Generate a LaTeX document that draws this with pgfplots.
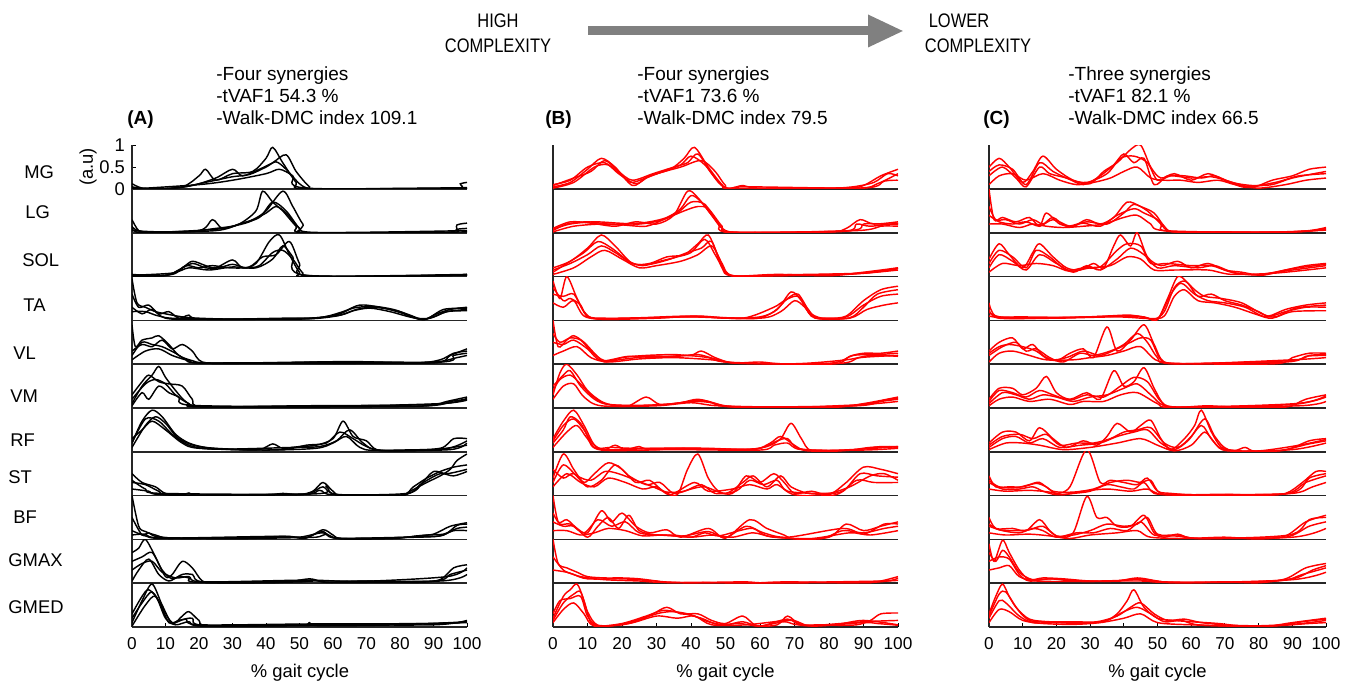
\documentclass[border=0pt]{standalone}
\usepackage{fontspec}
\setmainfont{Liberation Sans}
\usepackage{graphicx}
\usepackage{pgfplots}
\pgfplotsset{compat=1.18}
\usetikzlibrary{arrows.meta}
\newcommand\tickfont{\fontsize{8.6}{10}\selectfont}
\newcommand\labfont{\fontsize{9.2}{11}\selectfont}
\pgfplotsset{
 /pgf/number format/assume math mode=true,
 rowax/.style={scale only axis, height=21.9pt, xmin=0, xmax=100, ymin=0, ymax=1,
   axis x line*=bottom, axis y line*=left, axis line style={-, line width=0.75pt, black!85},
   xtick=\empty, ytick=\empty, anchor=south west},
 pA/.style={width=167.5pt}, pB/.style={width=172.5pt}, pC/.style={width=168.5pt},
 bot/.style={xtick={0,10,...,100}, tick align=inside, major tick length=2.2pt,
   xticklabel style={font=\tickfont, yshift=-1.5pt}, x tick style={black, line width=0.5pt}},
 A/.style={black, line width=0.72pt, smooth, mark=none},
 B/.style={red, line width=0.72pt, smooth, mark=none},
}
\newcommand\R[4]{\begin{axis}[rowax,#3,at={(#1pt,-#2pt)}]#4\end{axis}}
\begin{document}
\begin{tikzpicture}
\useasboundingbox (0,0) rectangle (677pt,-344pt);
% ---------------- header
\node[font=\fontsize{9.8}{12.5}\selectfont, align=center] at (249pt,-16.5pt) {\scalebox{0.84}[1]{HIGH}\\\scalebox{0.84}[1]{COMPLEXITY}};
\node[font=\fontsize{9.8}{12.5}\selectfont] at (479.5pt,-10.5pt) {\scalebox{0.84}[1]{LOWER}};
\node[font=\fontsize{9.8}{12.5}\selectfont] at (489pt,-23pt) {\scalebox{0.84}[1]{COMPLEXITY}};
\draw[-{Triangle[length=18pt,width=15pt]}, line width=4.5pt, color={rgb,255:red,128;green,128;blue,128}] (294pt,-15.5pt) -- (452pt,-15.5pt);
% ---------------- panel texts
\foreach \xx/\a/\b/\c in {108/Four synergies/54.3/109.1, 318.5/Four synergies/73.6/79.5, 534/Three synergies/82.1/66.5}{
 \node[anchor=base west, font=\fontsize{9.5}{11}\selectfont, inner sep=0pt] at (\xx pt,-40.5pt) {-\a};
 \node[anchor=base west, font=\fontsize{9.5}{11}\selectfont, inner sep=0pt] at (\xx pt,-51.5pt) {-tVAF1 \b\ \%};
 \node[anchor=base west, font=\fontsize{9.5}{11}\selectfont, inner sep=0pt] at (\xx pt,-62.5pt) {-Walk-DMC index \c};
}
\node[anchor=base west, font=\fontsize{9.5}{11}\selectfont\bfseries, inner sep=0pt] at (63.5pt,-62.5pt) {(A)};
\node[anchor=base west, font=\fontsize{9.5}{11}\selectfont\bfseries, inner sep=0pt] at (272.5pt,-62.5pt) {(B)};
\node[anchor=base west, font=\fontsize{9.5}{11}\selectfont\bfseries, inner sep=0pt] at (491.5pt,-62.5pt) {(C)};
% ---------------- row labels
\foreach \lab/\lx/\ly in {MG/12/86, LG/12.5/106, SOL/11/130, TA/11.5/152.5, VL/6.5/176.5, VM/5/198, RF/5/220, ST/4/238.5, BF/6.5/258.5, GMAX/4/280, GMED/4/303.5}{
 \node[anchor=west, font=\labfont, inner sep=0pt] at (\lx pt,-\ly pt) {\lab};
}
\node[rotate=90, font=\labfont] at (44pt,-83.5pt) {(a.u)};
\node[font=\labfont] at (150pt,-336.5pt) {\% gait cycle};
\node[font=\labfont] at (362.75pt,-336.5pt) {\% gait cycle};
\node[font=\labfont] at (578.75pt,-336.5pt) {\% gait cycle};
% ================= PANEL A
\R{66}{94.5}{pA, ytick={0,0.5,1}, tick align=inside, major tick length=2.2pt, y tick style={black, line width=0.5pt}, yticklabel style={font=\labfont}}{
\addplot[A] coordinates {(0,0.12)(3,0.02)(8,0)(15,0.04)(20,0.12)(25,0.2)(30,0.28)(35,0.33)(40,0.5)(43,0.62)(46,0.45)(50,0.12)(53,0.01)(60,0)(100,0.02)};
\addplot[A] coordinates {(0,0.05)(5,0)(15,0.05)(20,0.3)(22,0.45)(25,0.2)(30,0.35)(36,0.4)(40,0.7)(42,0.95)(45,0.6)(49,0.15)(52,0)(95,0)(98,0.12)(100,0.15)};
\addplot[A] coordinates {(0,0.02)(10,0.01)(18,0.08)(25,0.25)(30,0.45)(33,0.3)(38,0.45)(42,0.6)(46,0.78)(49,0.4)(53,0.05)(56,0)(100,0.03)};
\addplot[A] coordinates {(0,0)(20,0.1)(30,0.2)(40,0.35)(44,0.45)(48,0.3)(52,0.02)(100,0)};
}
\R{66}{116.4}{pA}{
\addplot[A] coordinates {(0,0.3)(2,0.05)(5,0.01)(15,0.03)(20,0.05)(25,0.1)(30,0.15)(35,0.25)(40,0.45)(43,0.6)(46,0.45)(50,0.1)(53,0)(94,0)(97,0.08)(100,0.1)};
\addplot[A] coordinates {(0,0.1)(3,0)(20,0.05)(24,0.3)(27,0.1)(32,0.2)(37,0.5)(39,0.95)(42,0.7)(45,0.5)(49,0.15)(52,0)(93,0)(97,0.18)(100,0.22)};
\addplot[A] coordinates {(0,0.05)(10,0.02)(25,0.08)(30,0.15)(36,0.3)(40,0.5)(45,0.95)(48,0.6)(51,0.2)(54,0.01)(100,0.05)};
\addplot[A] coordinates {(0,0.15)(4,0.02)(25,0.05)(32,0.2)(38,0.35)(42,0.7)(46,0.5)(50,0.1)(53,0)(100,0.02)};
}
\R{66}{138.3}{pA}{
\addplot[A] coordinates {(0,0.02)(10,0.03)(14,0.15)(18,0.3)(22,0.2)(26,0.2)(30,0.28)(34,0.2)(38,0.25)(42,0.55)(45,0.6)(48,0.4)(51,0.08)(54,0)(90,0.02)(100,0.05)};
\addplot[A] coordinates {(0,0.05)(10,0.02)(15,0.2)(18,0.35)(22,0.25)(25,0.2)(30,0.38)(33,0.2)(37,0.3)(41,0.8)(44,0.95)(47,0.5)(50,0.1)(53,0)(100,0.05)};
\addplot[A] coordinates {(0,0)(12,0.05)(16,0.25)(20,0.2)(24,0.25)(29,0.2)(35,0.22)(39,0.45)(43,0.5)(47,0.8)(50,0.3)(53,0.02)(100,0.04)};
\addplot[A] coordinates {(0,0.03)(12,0.08)(17,0.2)(23,0.15)(30,0.22)(37,0.2)(42,0.4)(45,0.7)(48,0.45)(52,0.03)(100,0.03)};
}
\R{66}{160.2}{pA}{
\addplot[A] coordinates {(0,0.95)(1.5,0.4)(4,0.3)(7,0.2)(10,0.15)(15,0.08)(20,0.05)(30,0.03)(45,0.05)(55,0.06)(62,0.15)(66,0.28)(72,0.32)(78,0.25)(83,0.12)(87,0.02)(91,0.15)(95,0.25)(100,0.3)};
\addplot[A] coordinates {(0,0.6)(2,0.3)(5,0.35)(8,0.15)(11,0.2)(14,0.05)(17,0.12)(20,0.03)(40,0.03)(55,0.05)(63,0.2)(68,0.35)(74,0.3)(80,0.18)(86,0.02)(90,0.08)(94,0.2)(100,0.25)};
\addplot[A] coordinates {(0,0.3)(3,0.15)(6,0.25)(10,0.05)(20,0.02)(50,0.04)(62,0.12)(67,0.25)(72,0.3)(79,0.22)(85,0.05)(88,0.03)(93,0.25)(100,0.28)};
\addplot[A] coordinates {(0,0.2)(4,0.2)(8,0.1)(15,0.04)(50,0.03)(61,0.1)(66,0.22)(71,0.28)(77,0.2)(84,0.06)(89,0.05)(94,0.2)(100,0.22)};
}
\R{66}{182.1}{pA}{
\addplot[A] coordinates {(0,0.9)(1,0.4)(3,0.55)(6,0.6)(8,0.65)(11,0.45)(14,0.2)(18,0.08)(22,0.03)(40,0.03)(65,0.06)(85,0.03)(92,0.1)(96,0.25)(100,0.3)};
\addplot[A] coordinates {(0,0.3)(3,0.45)(6,0.4)(9,0.55)(12,0.35)(15,0.45)(18,0.3)(21,0.05)(30,0.02)(60,0.05)(90,0.03)(95,0.2)(100,0.35)};
\addplot[A] coordinates {(0,0.1)(4,0.3)(8,0.35)(12,0.2)(16,0.1)(20,0.03)(50,0.04)(70,0.05)(90,0.05)(97,0.15)(100,0.2)};
\addplot[A] coordinates {(0,0.2)(3,0.5)(6,0.45)(9,0.4)(13,0.25)(17,0.08)(25,0.02)(90,0.04)(96,0.2)(100,0.25)};
}
\R{66}{204}{pA}{
\addplot[A] coordinates {(0,0.1)(3,0.5)(6,0.75)(8,0.95)(10,0.7)(13,0.4)(16,0.15)(20,0.04)(40,0.03)(70,0.05)(88,0.05)(94,0.15)(100,0.25)};
\addplot[A] coordinates {(0,0.3)(3,0.6)(5,0.75)(8,0.6)(11,0.55)(15,0.5)(18,0.2)(21,0.03)(50,0.05)(90,0.08)(100,0.22)};
\addplot[A] coordinates {(0,0.05)(3,0.35)(5,0.2)(8,0.5)(11,0.35)(14,0.25)(18,0.06)(60,0.04)(92,0.1)(100,0.18)};
\addplot[A] coordinates {(0,0.2)(4,0.55)(7,0.65)(10,0.55)(13,0.3)(17,0.1)(22,0.02)(85,0.04)(95,0.15)(100,0.2)};
}
\R{66}{225.9}{pA}{
\addplot[A] coordinates {(0,0.2)(3,0.7)(6,0.95)(9,0.8)(13,0.4)(17,0.2)(22,0.1)(30,0.06)(38,0.05)(42,0.18)(45,0.08)(50,0.12)(55,0.15)(60,0.3)(63,0.7)(66,0.35)(70,0.25)(73,0.05)(80,0.04)(92,0.08)(96,0.3)(100,0.3)};
\addplot[A] coordinates {(0,0.1)(4,0.6)(7,0.8)(10,0.65)(14,0.3)(20,0.12)(30,0.05)(45,0.05)(52,0.15)(58,0.2)(62,0.45)(66,0.3)(70,0.12)(75,0.03)(90,0.05)(100,0.15)};
\addplot[A] coordinates {(0,0.3)(3,0.5)(6,0.7)(10,0.5)(15,0.2)(20,0.08)(40,0.04)(55,0.08)(60,0.2)(64,0.35)(68,0.1)(73,0.03)(95,0.05)(100,0.2)};
\addplot[A] coordinates {(0,0.2)(4,0.75)(8,0.7)(12,0.4)(17,0.15)(25,0.06)(48,0.1)(56,0.12)(61,0.25)(65,0.5)(69,0.2)(74,0.03)(93,0.06)(100,0.25)};
}
\R{66}{247.8}{pA}{
\addplot[A] coordinates {(0,0.5)(3,0.3)(7,0.2)(10,0.05)(15,0.02)(17,0.06)(20,0.01)(40,0.02)(45,0.05)(50,0.02)(54,0.1)(57,0.3)(60,0.1)(63,0)(80,0)(84,0.2)(88,0.4)(92,0.55)(96,0.65)(100,0.7)};
\addplot[A] coordinates {(0,0.3)(4,0.25)(8,0.1)(12,0.01)(45,0.03)(53,0.05)(57,0.2)(61,0.03)(80,0)(83,0.1)(88,0.3)(92,0.45)(95,0.6)(97,0.8)(100,0.95)};
\addplot[A] coordinates {(0,0.15)(5,0.1)(10,0.02)(50,0.02)(56,0.12)(60,0.02)(82,0.05)(87,0.3)(92,0.5)(96,0.45)(100,0.55)};
\addplot[A] coordinates {(0,0.35)(4,0.15)(9,0.05)(55,0.04)(58,0.22)(61,0.02)(81,0.02)(86,0.25)(90,0.55)(94,0.5)(100,0.6)};
}
\R{66}{269.7}{pA}{
\addplot[A] coordinates {(0,1.0)(2,0.3)(4,0.18)(7,0.1)(12,0.03)(35,0.02)(42,0.06)(47,0.07)(52,0.03)(57,0.22)(60,0.1)(63,0.01)(78,0.02)(85,0.08)(90,0.12)(95,0.3)(100,0.38)};
\addplot[A] coordinates {(0,0.5)(3,0.1)(5,0.15)(10,0.04)(40,0.03)(50,0.05)(57,0.15)(62,0.02)(80,0.04)(88,0.1)(93,0.12)(97,0.25)(100,0.28)};
\addplot[A] coordinates {(0,0.2)(4,0.08)(10,0.02)(45,0.05)(55,0.05)(58,0.12)(62,0.02)(85,0.05)(92,0.08)(96,0.2)(100,0.2)};
\addplot[A] coordinates {(0,0.1)(4,0.12)(9,0.03)(44,0.07)(51,0.02)(57,0.18)(61,0.03)(86,0.06)(93,0.1)(97,0.32)(100,0.35)};
}
\R{66}{291.6}{pA}{
\addplot[A] coordinates {(0,0.7)(2,0.8)(4,1.0)(7,0.6)(10,0.15)(12,0.2)(15,0.5)(18,0.35)(21,0.05)(25,0.01)(45,0.02)(53,0.1)(58,0.02)(70,0.05)(85,0.02)(92,0.08)(96,0.35)(100,0.42)};
\addplot[A] coordinates {(0,0.5)(3,0.6)(6,0.7)(9,0.3)(12,0.1)(15,0.2)(18,0.2)(22,0.02)(50,0.03)(54,0.08)(60,0.02)(90,0.05)(95,0.2)(100,0.3)};
\addplot[A] coordinates {(0,0.05)(2,0.3)(5,0.55)(8,0.2)(11,0.05)(14,0.15)(17,0.12)(20,0.02)(55,0.05)(92,0.05)(100,0.2)};
\addplot[A] coordinates {(0,0.3)(3,0.45)(6,0.5)(9,0.25)(13,0.12)(17,0.15)(21,0.03)(52,0.07)(68,0.04)(94,0.15)(100,0.35)};
}
\R{66}{313.5}{pA, bot}{
\addplot[A] coordinates {(0,0.1)(3,0.6)(6,0.98)(9,0.5)(12,0.08)(15,0.25)(17,0.35)(20,0.15)(23,0.03)(50,0.04)(53,0.1)(56,0.03)(80,0.05)(95,0.1)(100,0.12)};
\addplot[A] coordinates {(0,0.3)(3,0.7)(5,0.85)(8,0.6)(11,0.1)(14,0.15)(18,0.2)(22,0.03)(60,0.04)(100,0.1)};
\addplot[A] coordinates {(0,0.02)(4,0.5)(7,0.7)(10,0.2)(13,0.05)(17,0.12)(21,0.02)(53,0.05)(90,0.05)(100,0.15)};
\addplot[A] coordinates {(0,0.2)(3,0.55)(6,0.8)(9,0.45)(12,0.1)(16,0.18)(20,0.05)(54,0.07)(92,0.08)(100,0.12)};
}
% ================= PANEL B
\R{276.5}{94.5}{pB}{
\addplot[B] coordinates {(0,0.05)(5,0.15)(10,0.45)(14,0.7)(18,0.5)(23,0.08)(27,0.25)(32,0.4)(37,0.55)(40,0.75)(44,0.55)(48,0.15)(51,0.01)(55,0.08)(60,0.02)(85,0.02)(90,0.08)(95,0.3)(100,0.45)};
\addplot[B] coordinates {(0,0.1)(5,0.2)(10,0.5)(15,0.6)(19,0.35)(24,0.12)(28,0.3)(34,0.45)(38,0.7)(41,0.95)(45,0.5)(49,0.1)(52,0)(80,0.02)(87,0.05)(93,0.15)(97,0.35)(100,0.3)};
\addplot[B] coordinates {(0,0.02)(6,0.15)(12,0.5)(16,0.55)(20,0.3)(23,0.15)(30,0.35)(37,0.5)(43,0.65)(47,0.4)(50,0.08)(53,0)(90,0.02)(96,0.18)(100,0.2)};
\addplot[B] coordinates {(0,0.08)(6,0.25)(11,0.4)(15,0.65)(19,0.4)(23,0.2)(29,0.35)(35,0.5)(39,0.6)(42,0.8)(46,0.35)(50,0.02)(56,0.05)(88,0.02)(94,0.12)(100,0.35)};
}
\R{276.5}{116.4}{pB}{
\addplot[B] coordinates {(0,0.05)(4,0.2)(10,0.25)(16,0.2)(22,0.2)(28,0.25)(33,0.35)(37,0.55)(40,0.85)(43,0.7)(47,0.3)(50,0.05)(55,0.01)(80,0.02)(85,0.1)(89,0.3)(93,0.2)(100,0.25)};
\addplot[B] coordinates {(0,0.1)(5,0.25)(11,0.22)(18,0.15)(24,0.25)(30,0.2)(35,0.4)(39,0.95)(42,0.8)(46,0.4)(49,0.1)(53,0)(86,0.05)(90,0.2)(95,0.2)(100,0.2)};
\addplot[B] coordinates {(0,0.02)(6,0.15)(14,0.2)(20,0.18)(27,0.15)(32,0.3)(38,0.5)(42,0.6)(45,0.55)(49,0.15)(52,0.01)(88,0.05)(95,0.15)(100,0.15)};
\addplot[B] coordinates {(0,0.08)(5,0.2)(12,0.25)(19,0.22)(25,0.2)(31,0.28)(36,0.45)(40,0.7)(44,0.65)(48,0.2)(51,0.02)(84,0.03)(88,0.2)(92,0.15)(100,0.22)};
}
\R{276.5}{138.3}{pB}{
\addplot[B] coordinates {(0,0.1)(4,0.3)(9,0.55)(13,0.8)(17,0.65)(22,0.35)(26,0.25)(31,0.35)(36,0.45)(40,0.55)(44,0.85)(47,0.5)(50,0.1)(53,0.01)(65,0.05)(80,0.02)(90,0.1)(100,0.2)};
\addplot[B] coordinates {(0,0.2)(5,0.35)(10,0.65)(14,0.95)(18,0.7)(23,0.3)(28,0.3)(33,0.45)(38,0.5)(42,0.75)(45,0.95)(48,0.45)(51,0.05)(60,0.02)(85,0.05)(100,0.15)};
\addplot[B] coordinates {(0,0.05)(6,0.2)(11,0.45)(15,0.6)(20,0.4)(25,0.2)(30,0.25)(37,0.35)(42,0.5)(46,0.7)(49,0.3)(52,0.02)(66,0.04)(90,0.08)(100,0.18)};
\addplot[B] coordinates {(0,0.15)(5,0.3)(10,0.5)(14,0.7)(18,0.55)(23,0.3)(28,0.28)(34,0.4)(39,0.55)(43,0.65)(46,0.8)(49,0.2)(52,0.02)(70,0.03)(90,0.08)(100,0.2)};
}
\R{276.5}{160.2}{pB}{
\addplot[B] coordinates {(0,0.9)(2,0.5)(4,1.0)(7,0.5)(10,0.1)(15,0.05)(25,0.06)(40,0.1)(50,0.05)(60,0.08)(65,0.25)(69,0.65)(72,0.45)(75,0.1)(80,0.05)(85,0.1)(90,0.45)(95,0.7)(100,0.78)};
\addplot[B] coordinates {(0,0.6)(3,0.55)(6,0.6)(9,0.2)(13,0.03)(30,0.05)(42,0.1)(55,0.05)(64,0.3)(67,0.45)(71,0.55)(74,0.2)(78,0.05)(85,0.08)(90,0.35)(95,0.55)(100,0.6)};
\addplot[B] coordinates {(0,0.4)(3,0.3)(6,0.45)(9,0.1)(15,0.04)(40,0.08)(60,0.05)(66,0.2)(70,0.45)(73,0.3)(76,0.05)(86,0.05)(91,0.25)(96,0.35)(100,0.4)};
\addplot[B] coordinates {(0,0.75)(3,0.45)(5,0.5)(8,0.35)(11,0.05)(25,0.05)(40,0.08)(58,0.04)(64,0.2)(68,0.5)(71,0.6)(74,0.25)(77,0.04)(86,0.06)(90,0.3)(94,0.6)(100,0.7)};
}
\R{276.5}{182.1}{pB}{
\addplot[B] coordinates {(0,1.0)(1.5,0.4)(4,0.55)(6,0.65)(9,0.5)(12,0.25)(15,0.05)(20,0.15)(27,0.2)(35,0.22)(40,0.2)(43,0.3)(47,0.15)(52,0.03)(60,0.05)(66,0.01)(82,0.01)(86,0.18)(90,0.25)(95,0.25)(100,0.3)};
\addplot[B] coordinates {(0,0.5)(3,0.45)(6,0.55)(10,0.35)(14,0.08)(22,0.18)(30,0.15)(38,0.2)(45,0.15)(50,0.05)(70,0.01)(85,0.1)(92,0.2)(100,0.18)};
\addplot[B] coordinates {(0,0.2)(3,0.3)(7,0.4)(11,0.15)(16,0.05)(25,0.12)(35,0.15)(46,0.1)(55,0.02)(83,0.02)(89,0.15)(100,0.2)};
\addplot[B] coordinates {(0,0.7)(2,0.5)(5,0.6)(8,0.55)(11,0.3)(15,0.08)(21,0.12)(28,0.18)(36,0.18)(42,0.22)(47,0.12)(54,0.02)(80,0.02)(87,0.2)(94,0.22)(100,0.25)};
}
\R{276.5}{204}{pB}{
\addplot[B] coordinates {(0,0.3)(2,0.8)(4,1.0)(7,0.75)(10,0.4)(14,0.15)(18,0.05)(22,0.05)(27,0.25)(31,0.08)(37,0.12)(42,0.2)(47,0.1)(53,0.02)(80,0.01)(90,0.1)(100,0.25)};
\addplot[B] coordinates {(0,0.5)(3,0.75)(5,0.85)(8,0.5)(12,0.2)(16,0.08)(25,0.05)(35,0.1)(43,0.18)(50,0.05)(60,0.01)(85,0.04)(95,0.15)(100,0.2)};
\addplot[B] coordinates {(0,0.2)(3,0.5)(6,0.55)(9,0.25)(14,0.05)(30,0.05)(40,0.12)(48,0.05)(70,0.02)(90,0.08)(100,0.15)};
\addplot[B] coordinates {(0,0.4)(2,0.65)(5,0.75)(8,0.55)(11,0.3)(15,0.1)(22,0.06)(32,0.08)(41,0.15)(46,0.12)(52,0.03)(88,0.05)(96,0.18)(100,0.22)};
}
\R{276.5}{225.9}{pB}{
\addplot[B] coordinates {(0,0.3)(3,0.7)(6,0.95)(9,0.6)(12,0.15)(15,0.05)(18,0.15)(21,0.05)(25,0.12)(28,0.05)(40,0.08)(55,0.05)(62,0.12)(66,0.3)(69,0.65)(72,0.3)(75,0.02)(85,0.03)(92,0.1)(100,0.12)};
\addplot[B] coordinates {(0,0.2)(3,0.5)(5,0.8)(8,0.65)(11,0.25)(15,0.05)(30,0.08)(45,0.08)(58,0.05)(63,0.2)(66,0.35)(70,0.15)(74,0.02)(88,0.05)(95,0.12)(100,0.1)};
\addplot[B] coordinates {(0,0.1)(4,0.45)(7,0.6)(10,0.3)(14,0.04)(35,0.05)(60,0.04)(64,0.15)(68,0.2)(72,0.05)(90,0.04)(100,0.08)};
\addplot[B] coordinates {(0,0.25)(3,0.6)(6,0.75)(9,0.5)(12,0.1)(17,0.1)(23,0.08)(35,0.08)(50,0.06)(60,0.08)(65,0.25)(68,0.3)(71,0.08)(80,0.03)(93,0.08)(100,0.12)};
}
\R{276.5}{247.8}{pB}{
\addplot[B] coordinates {(0,0.4)(3,0.95)(6,0.6)(9,0.3)(12,0.5)(16,0.75)(20,0.6)(24,0.3)(28,0.35)(32,0.1)(36,0.02)(39,0.6)(42,0.95)(45,0.4)(48,0.1)(52,0.05)(56,0.45)(60,0.3)(64,0.5)(67,0.3)(70,0.05)(75,0.1)(80,0.02)(85,0.3)(90,0.65)(95,0.6)(100,0.5)};
\addplot[B] coordinates {(0,0.6)(3,0.4)(6,0.5)(10,0.2)(14,0.35)(18,0.7)(22,0.45)(27,0.25)(31,0.3)(35,0.05)(40,0.15)(44,0.2)(50,0.05)(55,0.3)(58,0.45)(62,0.2)(66,0.45)(69,0.2)(74,0.05)(80,0.05)(86,0.2)(92,0.45)(96,0.5)(100,0.35)};
\addplot[B] coordinates {(0,0.2)(4,0.5)(8,0.3)(12,0.2)(16,0.4)(21,0.3)(26,0.15)(30,0.2)(34,0.02)(41,0.3)(45,0.1)(52,0.15)(57,0.25)(62,0.15)(65,0.25)(70,0.02)(82,0.02)(88,0.35)(93,0.3)(100,0.3)};
\addplot[B] coordinates {(0,0.3)(3,0.7)(7,0.45)(11,0.35)(15,0.55)(19,0.5)(24,0.35)(29,0.2)(33,0.08)(38,0.1)(43,0.25)(47,0.05)(53,0.1)(57,0.35)(61,0.25)(65,0.35)(68,0.1)(78,0.05)(84,0.1)(89,0.5)(94,0.45)(100,0.42)};
}
\R{276.5}{269.7}{pB}{
\addplot[B] coordinates {(0,1.0)(1.5,0.4)(4,0.45)(7,0.25)(10,0.15)(14,0.65)(17,0.4)(20,0.6)(24,0.3)(28,0.15)(33,0.22)(37,0.05)(45,0.25)(50,0.03)(57,0.45)(62,0.25)(67,0.1)(70,0.01)(80,0.05)(85,0.35)(90,0.2)(95,0.3)(100,0.4)};
\addplot[B] coordinates {(0,0.4)(3,0.3)(6,0.3)(10,0.05)(13,0.3)(16,0.5)(19,0.25)(22,0.55)(25,0.2)(30,0.1)(35,0.1)(40,0.05)(44,0.15)(48,0.08)(54,0.2)(58,0.25)(62,0.08)(70,0.02)(78,0.02)(84,0.2)(90,0.15)(96,0.25)(100,0.3)};
\addplot[B] coordinates {(0,0.2)(4,0.2)(8,0.1)(12,0.15)(16,0.25)(21,0.2)(26,0.08)(32,0.1)(40,0.05)(46,0.1)(52,0.05)(58,0.15)(64,0.05)(75,0.02)(86,0.15)(92,0.1)(100,0.2)};
\addplot[B] coordinates {(0,0.6)(2,0.35)(5,0.35)(9,0.15)(13,0.45)(17,0.3)(21,0.4)(25,0.15)(31,0.1)(38,0.08)(45,0.18)(50,0.04)(56,0.3)(61,0.15)(68,0.05)(84,0.25)(90,0.12)(96,0.35)(100,0.35)};
}
\R{276.5}{291.6}{pB}{
\addplot[B] coordinates {(0,1.0)(1.5,0.45)(4,0.35)(7,0.25)(10,0.15)(15,0.12)(20,0.12)(25,0.1)(30,0.05)(35,0.01)(55,0.03)(60,0.01)(68,0.03)(90,0.01)(95,0.05)(100,0.15)};
\addplot[B] coordinates {(0,0.6)(3,0.3)(6,0.2)(10,0.1)(20,0.1)(28,0.06)(35,0.02)(50,0.01)(92,0.02)(100,0.12)};
\addplot[B] coordinates {(0,0.3)(4,0.25)(8,0.15)(15,0.08)(25,0.05)(32,0.02)(60,0.01)(96,0.05)(100,0.08)};
}
\R{276.5}{313.5}{pB, bot}{
\addplot[B] coordinates {(0,0.2)(3,0.7)(5,0.85)(7,0.98)(9,0.6)(11,0.1)(14,0.03)(20,0.05)(25,0.15)(29,0.3)(33,0.45)(37,0.3)(42,0.3)(46,0.15)(50,0.08)(55,0.25)(59,0.03)(65,0.05)(68,0.25)(72,0.05)(80,0.04)(88,0.05)(92,0.15)(95,0.3)(100,0.32)};
\addplot[B] coordinates {(0,0.3)(2,0.6)(5,0.65)(8,0.7)(10,0.25)(13,0.03)(20,0.08)(27,0.25)(32,0.38)(37,0.32)(43,0.2)(48,0.05)(54,0.08)(60,0.02)(67,0.12)(71,0.05)(82,0.06)(90,0.15)(100,0.05)};
\addplot[B] coordinates {(0,0.1)(3,0.4)(6,0.55)(9,0.3)(12,0.02)(22,0.08)(30,0.25)(36,0.2)(41,0.25)(46,0.05)(56,0.05)(69,0.15)(75,0.02)(90,0.1)(94,0.08)(100,0.04)};
\addplot[B] coordinates {(0,0.15)(3,0.55)(6,0.75)(8,0.8)(10,0.35)(13,0.04)(20,0.06)(26,0.2)(31,0.32)(35,0.35)(40,0.28)(45,0.12)(50,0.05)(55,0.12)(60,0.02)(68,0.18)(73,0.03)(90,0.12)(100,0.15)};
}
% ================= PANEL C
\R{494.5}{94.5}{pC}{
\addplot[B] coordinates {(0,0.5)(3,0.7)(6,0.5)(10,0.15)(13,0.4)(16,0.75)(20,0.45)(25,0.2)(30,0.12)(34,0.4)(38,0.6)(42,0.9)(45,1.0)(48,0.5)(51,0.25)(55,0.35)(60,0.2)(65,0.35)(70,0.2)(75,0.05)(79,0.05)(84,0.2)(90,0.3)(95,0.45)(100,0.5)};
\addplot[B] coordinates {(0,0.3)(4,0.5)(8,0.25)(11,0.05)(15,0.5)(18,0.35)(23,0.25)(28,0.1)(33,0.3)(37,0.55)(40,0.8)(43,0.6)(46,0.7)(49,0.1)(53,0.3)(58,0.3)(63,0.25)(67,0.3)(72,0.15)(78,0.08)(84,0.1)(90,0.25)(100,0.4)};
\addplot[B] coordinates {(0,0.1)(3,0.3)(7,0.35)(11,0.2)(16,0.35)(21,0.2)(26,0.1)(31,0.15)(36,0.25)(40,0.4)(44,0.5)(48,0.25)(52,0.2)(57,0.2)(62,0.15)(68,0.2)(73,0.1)(80,0.02)(88,0.1)(94,0.2)(100,0.25)};
\addplot[B] coordinates {(0,0.4)(3,0.55)(7,0.45)(11,0.1)(15,0.6)(19,0.4)(24,0.22)(29,0.15)(35,0.35)(39,0.7)(43,0.75)(47,0.6)(50,0.2)(54,0.3)(60,0.25)(66,0.28)(71,0.18)(77,0.06)(85,0.15)(92,0.3)(100,0.35)};
}
\R{494.5}{116.4}{pC}{
\addplot[B] coordinates {(0,1.0)(1.5,0.3)(4,0.35)(8,0.25)(12,0.35)(15,0.15)(17,0.45)(21,0.2)(25,0.15)(29,0.3)(33,0.2)(37,0.35)(41,0.7)(45,0.6)(49,0.45)(52,0.15)(55,0.02)(70,0.02)(85,0.01)(95,0.05)(100,0.12)};
\addplot[B] coordinates {(0,0.4)(3,0.25)(7,0.2)(11,0.25)(15,0.15)(19,0.3)(24,0.15)(28,0.22)(33,0.15)(38,0.4)(43,0.55)(46,0.45)(50,0.3)(53,0.05)(60,0.02)(90,0.02)(100,0.08)};
\addplot[B] coordinates {(0,0.2)(4,0.2)(9,0.12)(13,0.2)(17,0.15)(22,0.12)(28,0.15)(34,0.2)(40,0.35)(44,0.4)(48,0.2)(52,0.05)(80,0.01)(100,0.06)};
\addplot[B] coordinates {(0,0.6)(2,0.3)(5,0.3)(9,0.2)(13,0.3)(16,0.2)(19,0.35)(23,0.15)(29,0.25)(35,0.2)(40,0.45)(43,0.65)(47,0.5)(51,0.2)(54,0.03)(90,0.02)(100,0.1)};
}
\R{494.5}{138.3}{pC}{
\addplot[B] coordinates {(0,0.4)(3,0.75)(6,0.5)(10,0.2)(13,0.55)(15,0.75)(19,0.45)(23,0.2)(27,0.15)(31,0.3)(34,0.2)(37,0.7)(39,0.95)(42,0.7)(44,1.0)(47,0.45)(51,0.25)(56,0.35)(60,0.2)(65,0.3)(70,0.15)(75,0.1)(81,0.03)(88,0.15)(94,0.25)(100,0.3)};
\addplot[B] coordinates {(0,0.2)(3,0.5)(7,0.35)(11,0.15)(15,0.5)(20,0.3)(25,0.1)(29,0.25)(33,0.15)(38,0.4)(42,0.65)(46,0.5)(50,0.2)(55,0.25)(62,0.2)(67,0.25)(73,0.08)(80,0.05)(90,0.15)(100,0.25)};
\addplot[B] coordinates {(0,0.1)(4,0.3)(9,0.25)(14,0.3)(19,0.25)(24,0.12)(30,0.2)(36,0.25)(41,0.45)(45,0.4)(49,0.15)(55,0.15)(65,0.15)(72,0.05)(85,0.08)(100,0.2)};
\addplot[B] coordinates {(0,0.3)(3,0.6)(7,0.45)(11,0.2)(14,0.6)(18,0.45)(23,0.15)(28,0.2)(33,0.22)(38,0.6)(41,0.75)(45,0.7)(48,0.3)(53,0.3)(60,0.25)(66,0.25)(72,0.1)(80,0.04)(90,0.18)(100,0.28)};
}
\R{494.5}{160.2}{pC}{
\addplot[B] coordinates {(0,0.4)(2,0.1)(10,0.08)(25,0.07)(35,0.1)(42,0.12)(47,0.05)(50,0.02)(53,0.5)(56,1.0)(59,0.85)(62,0.55)(66,0.6)(70,0.45)(75,0.35)(80,0.2)(83,0.1)(88,0.25)(94,0.35)(100,0.4)};
\addplot[B] coordinates {(0,0.2)(3,0.08)(15,0.06)(30,0.08)(40,0.1)(46,0.08)(50,0.02)(54,0.6)(57,0.85)(61,0.6)(65,0.45)(70,0.4)(76,0.3)(82,0.08)(88,0.2)(94,0.3)(100,0.3)};
\addplot[B] coordinates {(0,0.1)(5,0.05)(20,0.05)(38,0.08)(48,0.04)(52,0.1)(55,0.55)(58,0.7)(62,0.45)(67,0.4)(73,0.3)(80,0.12)(84,0.05)(90,0.2)(100,0.22)};
\addplot[B] coordinates {(0,0.25)(3,0.05)(20,0.06)(35,0.09)(44,0.1)(49,0.03)(52,0.2)(55,0.75)(58,0.9)(61,0.7)(64,0.55)(69,0.5)(75,0.4)(81,0.15)(85,0.08)(91,0.28)(100,0.35)};
}
\R{494.5}{182.1}{pC}{
\addplot[B] coordinates {(0,0.3)(3,0.5)(7,0.6)(10,0.35)(13,0.45)(16,0.2)(20,0.08)(24,0.25)(28,0.35)(31,0.15)(35,0.85)(38,0.3)(42,0.55)(46,0.9)(49,0.45)(52,0.05)(60,0.01)(85,0.01)(90,0.15)(95,0.25)(100,0.25)};
\addplot[B] coordinates {(0,0.2)(4,0.4)(8,0.5)(11,0.3)(14,0.35)(18,0.15)(22,0.05)(27,0.25)(31,0.2)(36,0.3)(40,0.45)(44,0.7)(47,0.5)(50,0.15)(54,0.02)(88,0.05)(94,0.18)(100,0.2)};
\addplot[B] coordinates {(0,0.05)(3,0.25)(7,0.3)(12,0.2)(17,0.1)(25,0.1)(30,0.15)(35,0.2)(40,0.3)(45,0.4)(50,0.08)(60,0.01)(90,0.1)(100,0.15)};
\addplot[B] coordinates {(0,0.25)(3,0.4)(6,0.45)(10,0.4)(14,0.3)(18,0.1)(23,0.15)(28,0.3)(33,0.2)(38,0.35)(42,0.5)(45,0.6)(48,0.55)(51,0.1)(56,0.01)(89,0.08)(95,0.2)(100,0.22)};
}
\R{494.5}{204}{pC}{
\addplot[B] coordinates {(0,0.2)(3,0.45)(7,0.45)(10,0.3)(14,0.45)(17,0.72)(20,0.35)(24,0.2)(29,0.35)(33,0.2)(37,0.85)(40,0.5)(43,0.6)(46,0.92)(49,0.45)(52,0.08)(57,0.02)(65,0.05)(75,0.01)(88,0.02)(94,0.2)(100,0.3)};
\addplot[B] coordinates {(0,0.1)(4,0.35)(8,0.3)(12,0.2)(16,0.3)(20,0.25)(25,0.15)(30,0.25)(35,0.3)(40,0.45)(44,0.55)(48,0.3)(52,0.05)(60,0.02)(90,0.08)(100,0.25)};
\addplot[B] coordinates {(0,0.05)(3,0.2)(7,0.25)(12,0.15)(18,0.2)(24,0.08)(28,0.15)(34,0.15)(39,0.3)(44,0.35)(50,0.1)(55,0.01)(92,0.05)(100,0.15)};
\addplot[B] coordinates {(0,0.15)(3,0.4)(7,0.35)(11,0.25)(15,0.4)(19,0.3)(24,0.18)(29,0.3)(34,0.25)(39,0.5)(43,0.7)(47,0.6)(51,0.15)(56,0.02)(91,0.1)(100,0.28)};
}
\R{494.5}{225.9}{pC}{
\addplot[B] coordinates {(0,0.2)(4,0.45)(8,0.45)(12,0.25)(15,0.55)(19,0.3)(23,0.1)(28,0.25)(32,0.15)(35,0.35)(38,0.65)(42,0.45)(45,0.6)(48,0.72)(51,0.3)(54,0.05)(58,0.3)(61,0.6)(63,0.95)(66,0.45)(69,0.1)(73,0.03)(76,0.1)(79,0.01)(88,0.04)(95,0.25)(100,0.3)};
\addplot[B] coordinates {(0,0.1)(4,0.3)(8,0.35)(12,0.2)(16,0.3)(21,0.1)(27,0.15)(33,0.2)(38,0.35)(43,0.45)(47,0.5)(51,0.2)(55,0.05)(59,0.25)(63,0.6)(66,0.3)(70,0.05)(85,0.02)(95,0.18)(100,0.25)};
\addplot[B] coordinates {(0,0.05)(5,0.2)(10,0.2)(15,0.15)(22,0.05)(30,0.1)(38,0.2)(45,0.3)(50,0.15)(55,0.02)(60,0.15)(64,0.45)(67,0.2)(71,0.02)(90,0.05)(100,0.2)};
\addplot[B] coordinates {(0,0.15)(4,0.35)(9,0.4)(13,0.3)(17,0.4)(21,0.15)(26,0.2)(31,0.2)(36,0.3)(40,0.45)(44,0.5)(48,0.55)(52,0.2)(56,0.1)(60,0.35)(64,0.75)(67,0.35)(71,0.05)(80,0.02)(92,0.15)(100,0.28)};
}
\R{494.5}{247.8}{pC}{
\addplot[B] coordinates {(0,0.45)(2,0.2)(6,0.2)(10,0.2)(14,0.28)(17,0.2)(20,0.05)(24,0.2)(29,1.05)(33,0.3)(36,0.35)(40,0.3)(44,0.25)(47,0.4)(50,0.1)(54,0.05)(60,0.02)(70,0.03)(80,0.01)(88,0.05)(93,0.3)(97,0.55)(100,0.55)};
\addplot[B] coordinates {(0,0.3)(4,0.15)(9,0.15)(13,0.2)(16,0.1)(20,0.02)(25,0.05)(30,0.1)(35,0.25)(39,0.2)(43,0.15)(46,0.3)(49,0.05)(55,0.03)(70,0.01)(88,0.04)(94,0.3)(100,0.45)};
\addplot[B] coordinates {(0,0.15)(5,0.1)(12,0.12)(18,0.08)(22,0.02)(28,0.1)(35,0.15)(42,0.1)(47,0.15)(52,0.02)(70,0.02)(90,0.05)(96,0.2)(100,0.3)};
\addplot[B] coordinates {(0,0.35)(3,0.2)(8,0.18)(12,0.25)(15,0.3)(19,0.1)(25,0.08)(31,0.15)(36,0.3)(41,0.35)(45,0.3)(48,0.35)(51,0.05)(60,0.02)(89,0.05)(95,0.4)(100,0.5)};
}
\R{494.5}{269.7}{pC}{
\addplot[B] coordinates {(0,0.5)(2,0.25)(7,0.25)(11,0.2)(15,0.45)(18,0.2)(21,0.05)(25,0.15)(29,0.98)(32,0.5)(35,0.5)(38,0.3)(42,0.3)(46,0.55)(49,0.15)(52,0.05)(56,0.12)(60,0.03)(70,0.05)(80,0.01)(88,0.08)(94,0.4)(100,0.55)};
\addplot[B] coordinates {(0,0.3)(4,0.2)(9,0.15)(13,0.25)(16,0.2)(20,0.05)(26,0.15)(31,0.15)(36,0.25)(41,0.2)(45,0.4)(49,0.1)(55,0.08)(62,0.02)(72,0.03)(88,0.05)(95,0.3)(100,0.4)};
\addplot[B] coordinates {(0,0.15)(5,0.1)(12,0.12)(18,0.08)(24,0.02)(30,0.1)(38,0.15)(44,0.2)(48,0.05)(60,0.02)(90,0.05)(100,0.25)};
\addplot[B] coordinates {(0,0.35)(3,0.22)(8,0.2)(12,0.22)(16,0.3)(20,0.08)(25,0.1)(30,0.2)(35,0.35)(40,0.3)(44,0.35)(47,0.5)(50,0.12)(56,0.1)(63,0.02)(89,0.1)(95,0.45)(100,0.5)};
}
\R{494.5}{291.6}{pC}{
\addplot[B] coordinates {(0,0.9)(1.5,0.5)(4,0.98)(6,0.7)(9,0.3)(12,0.08)(16,0.12)(22,0.1)(30,0.05)(38,0.05)(44,0.12)(50,0.05)(55,0.01)(70,0.03)(80,0.01)(88,0.1)(94,0.35)(100,0.45)};
\addplot[B] coordinates {(0,0.5)(3,0.6)(6,0.55)(9,0.2)(12,0.05)(18,0.1)(25,0.05)(35,0.04)(44,0.08)(52,0.02)(85,0.05)(93,0.2)(100,0.35)};
\addplot[B] coordinates {(0,0.3)(3,0.35)(6,0.4)(9,0.15)(14,0.05)(25,0.04)(45,0.05)(60,0.01)(90,0.08)(100,0.25)};
\addplot[B] coordinates {(0,0.7)(2,0.5)(4,0.75)(6,0.6)(9,0.25)(13,0.08)(19,0.1)(28,0.05)(38,0.06)(45,0.1)(52,0.03)(75,0.02)(90,0.1)(96,0.3)(100,0.4)};
}
\R{494.5}{313.5}{pC, bot}{
\addplot[B] coordinates {(0,0.3)(2,0.7)(4,0.98)(6,0.7)(9,0.35)(12,0.15)(16,0.12)(22,0.1)(28,0.1)(34,0.12)(38,0.3)(41,0.6)(43,0.85)(46,0.45)(50,0.2)(55,0.15)(60,0.12)(68,0.08)(75,0.02)(82,0.01)(90,0.1)(100,0.2)};
\addplot[B] coordinates {(0,0.2)(3,0.6)(5,0.55)(9,0.25)(13,0.1)(20,0.1)(28,0.08)(35,0.15)(40,0.35)(44,0.45)(48,0.3)(52,0.12)(57,0.15)(62,0.05)(75,0.02)(90,0.06)(100,0.15)};
\addplot[B] coordinates {(0,0.1)(3,0.4)(6,0.35)(10,0.15)(16,0.08)(25,0.06)(33,0.1)(40,0.2)(45,0.3)(50,0.1)(60,0.05)(80,0.01)(95,0.08)(100,0.1)};
\addplot[B] coordinates {(0,0.25)(3,0.75)(5,0.8)(8,0.45)(12,0.18)(18,0.12)(25,0.12)(32,0.12)(38,0.25)(42,0.45)(45,0.55)(49,0.3)(53,0.15)(58,0.18)(63,0.1)(72,0.04)(85,0.03)(93,0.12)(100,0.18)};
}
\end{tikzpicture}
\end{document}
